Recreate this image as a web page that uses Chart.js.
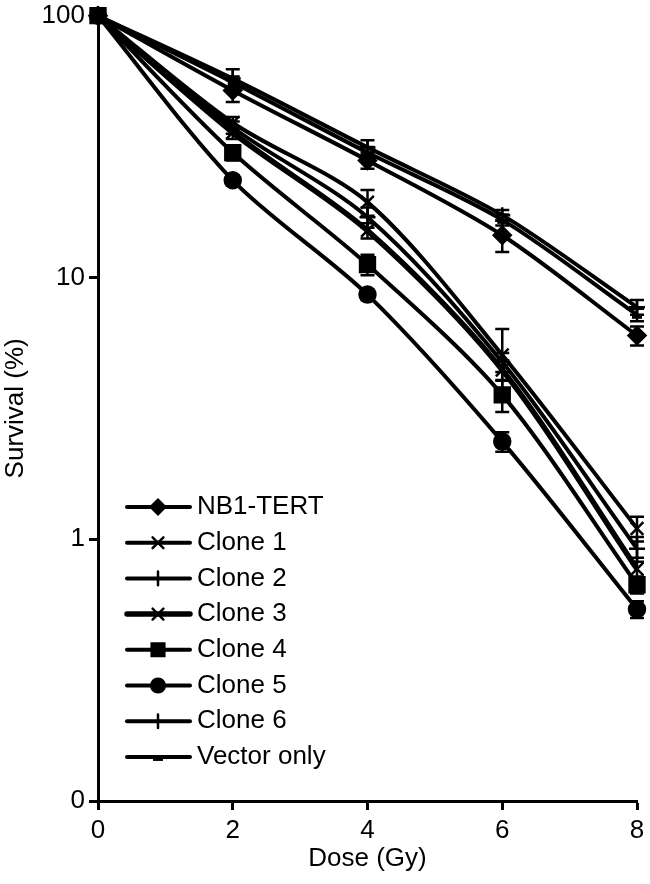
<!DOCTYPE html>
<html>
<head>
<meta charset="utf-8">
<script src="https://cdn.jsdelivr.net/npm/chart.js@4.4.1/dist/chart.umd.min.js"></script>
<style>
  html, body { margin: 0; padding: 0; background: #fff; }
  #wrap { width: 650px; height: 884px; position: relative; }
</style>
</head>
<body>
<div id="wrap"><canvas id="c" width="650" height="884"></canvas></div>
<script>
// ---- data (survival %) ----
const doses = [0, 2, 4, 6, 8];
const seriesNames = ["NB1-TERT", "Clone 1", "Clone 2", "Clone 3", "Clone 4", "Clone 5", "Clone 6", "Vector only"];
const nb1Tert  = [100, 51.8, 28.0, 14.5, 6.0];
const clone1   = [100, 39.0, 19.4, 5.06, 1.10];
const clone2   = [100, 57.5, 31.4, 17.3, 7.7];
const clone3   = [100, 35.8, 15.1, 4.43, 0.77];
const clone4   = [100, 30.0, 11.2, 3.56, 0.67];
const clone5   = [100, 23.5, 8.6, 2.36, 0.54];
const clone6   = [100, 37.4, 17.0, 4.75, 0.92];
const vectorOnly = [100, 55.6, 30.0, 16.6, 7.2];
// error bars (± survival %)
const nb1TertErr = [0, 5, 2, 2, 0.5];
const clone1Err  = [0, 2, 2.2, 1.3, 0.12];
const clone2Err  = [0, 5, 2, 0.8, 0.5];
const clone3Err  = [0, 2, 1, 0.4, 0.08];
const clone4Err  = [0, 2, 1, 0.5, 0.05];
const clone5Err  = [0, 1, 0.4, 0.2, 0.04];
const clone6Err  = [0, 2, 1.5, 0.4, 0.1];
const vectorErr  = [0, 3, 1.5, 0.8, 0.4];
const yTickValues = [0.1, 1, 10, 100];
const yTickLabels = ["0", "1", "10", "100"];
const xTickValues = [0, 2, 4, 6, 8];

const FONT = "'Liberation Sans', Arial, Helvetica, sans-serif";

// vector-only marker: small dash below the line
function dashMarker() {
  const c = document.createElement('canvas');
  c.width = 12; c.height = 12;
  const g = c.getContext('2d');
  g.fillStyle = '#000';
  g.fillRect(1, 5, 10, 5);
  return c;
}

const styles = [
  { values: nb1Tert,   err: nb1TertErr, point: 'rectRot',  r: 8.5, bw: 4 },
  { values: clone1,    err: clone1Err,  point: 'crossRot', r: 9,   bw: 4 },
  { values: clone2,    err: clone2Err,  point: 'cross',    r: 8,   bw: 4 },
  { values: clone3,    err: clone3Err,  point: 'crossRot', r: 9,   bw: 5.5 },
  { values: clone4,    err: clone4Err,  point: 'rect',     r: 10.5,bw: 4 },
  { values: clone5,    err: clone5Err,  point: 'circle',   r: 8,   bw: 4 },
  { values: clone6,    err: clone6Err,  point: 'cross',    r: 8,   bw: 4 },
  { values: vectorOnly,err: vectorErr,  point: dashMarker(), r: 6, bw: 4 }
];

const datasets = styles.map((s, i) => ({
  label: seriesNames[i],
  data: doses.map((d, j) => ({ x: d, y: s.values[j] })),
  errors: s.err,
  borderColor: '#000',
  backgroundColor: '#000',
  borderWidth: s.bw,
  pointStyle: s.point,
  pointRadius: s.r,
  pointBorderWidth: 2.5,
  pointBorderColor: '#000',
  pointBackgroundColor: '#000',
  tension: 0.3,
  clip: false
}));

const errorBarPlugin = {
  id: 'errorBars',
  afterDatasetsDraw(chart) {
    const ctx = chart.ctx;
    const xs = chart.scales.x, ys = chart.scales.y;
    ctx.save();
    ctx.strokeStyle = '#000';
    ctx.lineWidth = 2.5;
    chart.data.datasets.forEach(ds => {
      ds.data.forEach((p, j) => {
        const e = ds.errors[j];
        if (!e) return;
        const px = xs.getPixelForValue(p.x);
        const yt = ys.getPixelForValue(p.y + e);
        const yb = ys.getPixelForValue(Math.max(p.y - e, 0.1001));
        ctx.beginPath();
        ctx.moveTo(px, yt); ctx.lineTo(px, yb);
        ctx.moveTo(px - 7, yt); ctx.lineTo(px + 7, yt);
        ctx.moveTo(px - 7, yb); ctx.lineTo(px + 7, yb);
        ctx.stroke();
      });
    });
    ctx.restore();
  }
};

const legendPlugin = {
  id: 'insideLegend',
  afterDraw(chart) {
    const ctx = chart.ctx;
    ctx.save();
    const x0 = 127, x1 = 190, xm = 158, xt = 197, y0 = 507, dy = 35.7;
    chart.data.datasets.forEach((ds, i) => {
      const y = y0 + i * dy;
      ctx.strokeStyle = '#000';
      ctx.lineWidth = ds.borderWidth;
      ctx.lineCap = 'round';
      ctx.beginPath(); ctx.moveTo(x0, y); ctx.lineTo(x1, y); ctx.stroke();
      ctx.lineWidth = 2.5;
      ctx.fillStyle = '#000';
      Chart.helpers.drawPoint(ctx, {
        pointStyle: ds.pointStyle,
        radius: ds.pointRadius * 0.85,
        rotation: 0,
        borderWidth: 2.5
      }, xm, y);
      ctx.fillStyle = '#000';
      ctx.font = '26px ' + FONT;
      ctx.textBaseline = 'middle';
      ctx.textAlign = 'left';
      ctx.fillText(ds.label, xt, y);
    });
    ctx.restore();
  }
};

new Chart(document.getElementById('c'), {
  type: 'line',
  data: { datasets },
  plugins: [errorBarPlugin, legendPlugin],
  options: {
    responsive: false,
    animation: false,
    devicePixelRatio: 1,
    layout: { padding: { left: 0, right: 13, top: 0, bottom: 0 } },
    plugins: { legend: { display: false }, tooltip: { enabled: false } },
    scales: {
      x: {
        type: 'linear',
        min: 0, max: 8,
        afterBuildTicks(scale) { scale.ticks = xTickValues.map(v => ({ value: v })); },
        afterFit(scale) { scale.height = 83; },
        ticks: { color: '#000', font: { family: FONT, size: 26 }, padding: 5, maxRotation: 0 },
        grid: { display: true, drawOnChartArea: false, drawTicks: true, tickLength: 9, tickWidth: 3, tickColor: '#000' },
        border: { display: true, color: '#000', width: 3 },
        title: { display: true, text: 'Dose (Gy)', color: '#000', font: { family: FONT, size: 26 }, padding: { top: 0, bottom: 10 } }
      },
      y: {
        type: 'logarithmic',
        min: 0.1, max: 100,
        afterBuildTicks(scale) { scale.ticks = yTickValues.map(v => ({ value: v })); },
        afterFit(scale) { scale.width = 98; },
        ticks: {
          color: '#000', font: { family: FONT, size: 26, lineHeight: 0.9 }, padding: 4,
          callback(v) { const i = yTickValues.indexOf(v); return i >= 0 ? yTickLabels[i] : ''; }
        },
        grid: { display: true, drawOnChartArea: false, drawTicks: true, tickLength: 9, tickWidth: 3, tickColor: '#000' },
        border: { display: true, color: '#000', width: 3 },
        title: { display: true, text: 'Survival (%)', color: '#000', font: { family: FONT, size: 26 }, padding: { top: 0, bottom: 0 } }
      }
    }
  }
});
</script>
</body>
</html>
